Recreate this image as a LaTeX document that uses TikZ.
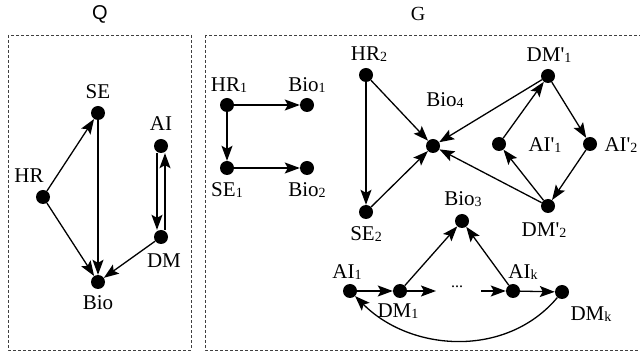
\documentclass[tikz,border=0pt]{standalone}
\usepackage{fontspec}
\setmainfont{Liberation Serif}
\newfontfamily\titlesans{Liberation Sans}
\usetikzlibrary{arrows.meta}
% small upright index digits/letters used in the vertex names
\newcommand\sbs[1]{\raisebox{-0.12ex}{\fontsize{14}{14}\selectfont #1}}
\newcommand\pr{\textquotesingle}

\begin{document}
\begin{tikzpicture}[x=1pt,y=-1pt,
  dot/.style={circle,fill=black,inner sep=0pt,minimum size=14pt},
  lbl/.style={inner sep=0pt,font=\fontsize{21}{25}\selectfont},
  ttl/.style={inner sep=0pt,font=\fontsize{20}{24}\selectfont},
  edge/.style={line width=1.3pt,-{Stealth[length=15pt,width=11pt,inset=3pt]}},
  frame/.style={line width=0.9pt,black!75,dash pattern=on 3pt off 2pt}]
\useasboundingbox (0,0) rectangle (640,352);

% ---- frames and titles
\draw[frame] (8,35) rectangle (191,350);
\draw[frame] (205,35) rectangle (646,350);
\node[ttl,font=\titlesans\fontsize{20}{24}\selectfont] (tQ) at (100,14) {Q};
\node[ttl] (tG) at (418,14) {G};

% ---- pattern Q
\node[dot] (SE)  at (98,113)  {};
\node[dot] (HR)  at (43,197)  {};
\node[dot] (Bio) at (98,282)  {};
\node[dot] (AI)  at (161,146) {};
\node[dot] (DM)  at (161,237) {};
\node[lbl] (lSE)  at (98,92)   {SE};
\node[lbl] (lHR)  at (29,176)  {HR};
\node[lbl] (lBio) at (98,303)  {Bio};
\node[lbl] (lAI)  at (161,124) {AI};
\node[lbl] (lDM)  at (164,261) {DM};

\draw[edge] (HR) -- (SE);
\draw[edge] (HR) -- (Bio);
\draw[edge] (SE) -- (Bio);
\draw[edge] (DM) -- (Bio);
\draw[edge] ([xshift=-4pt]AI.south) -- ([xshift=-4pt]DM.north);
\draw[edge] ([xshift=4pt]DM.north) -- ([xshift=4pt]AI.south);

% ---- graph G
\node[dot] (HRa)  at (227,105) {};
\node[dot] (Bioa) at (307,105) {};
\node[dot] (SEa)  at (227,168) {};
\node[dot] (Biob) at (307,168) {};
\node[lbl] (lHRa)  at (229,85)  {HR\sbs{1}};
\node[lbl] (lBioa) at (307,85)  {Bio\sbs{1}};
\node[lbl] (lSEa)  at (227,190) {SE\sbs{1}};
\node[lbl] (lBiob) at (307,190) {Bio\sbs{2}};

\draw[edge] (HRa) -- (Bioa);
\draw[edge] (HRa) -- (SEa);
\draw[edge] (SEa) -- (Biob);

\node[dot] (HRb)  at (366,75)  {};
\node[dot] (SEb)  at (366,212) {};
\node[dot] (Biod) at (433,146) {};
\node[dot] (DMpa) at (548,76)  {};
\node[dot] (AIpa) at (499,144) {};
\node[dot] (AIpb) at (590,144) {};
\node[dot] (DMpb) at (548,206) {};
\node[lbl] (lHRb)  at (369,54)  {HR\sbs{2}};
\node[lbl] (lSEb)  at (366,234) {SE\sbs{2}};
\node[lbl] (lBiod) at (445,100) {Bio\sbs{4}};
\node[lbl] (lDMpa) at (549,55)  {DM\pr\sbs{1}};
\node[lbl] (lAIpa) at (545,145) {AI\pr\sbs{1}};
\node[lbl] (lAIpb) at (621,145) {AI\pr\sbs{2}};
\node[lbl] (lDMpb) at (544,230) {DM\pr\sbs{2}};

\draw[edge] (HRb) -- (SEb);
\draw[edge] (HRb) -- (Biod);
\draw[edge] (SEb) -- (Biod);
\draw[edge] (DMpa) -- (Biod);
\draw[edge] (DMpb) -- (Biod);
\draw[edge] (AIpa) -- (DMpa);
\draw[edge] (DMpa) -- (AIpb);
\draw[edge] (AIpb) -- (DMpb);
\draw[edge] (DMpb) -- (AIpa);

\node[dot] (Bioc) at (462,221) {};
\node[dot] (AIa)  at (350,291) {};
\node[dot] (DMa)  at (400,291) {};
\node[dot] (AIk)  at (513,291) {};
\node[dot] (DMk)  at (562,292) {};
\node[lbl] (lBioc) at (463,199) {Bio\sbs{3}};
\node[lbl] (lAIa)  at (347,272) {AI\sbs{1}};
\node[lbl] (lDMa)  at (398,311) {DM\sbs{1}};
\node[lbl] (lAIk)  at (523,272) {AI\sbs{k}};
\node[lbl] (lDMk)  at (591,314) {DM\sbs{k}};
\node[inner sep=0pt,font=\fontsize{16}{18}\selectfont] (gap) at (457,287) {...};
\coordinate (gapL) at (436,291);
\coordinate (gapR) at (481,291);

\draw[edge] (AIa) -- (DMa);
\draw[edge] (DMa) -- (gapL);
\draw[edge] (gapR) -- (AIk);
\draw[edge] (AIk) -- (DMk);
\draw[edge] (DMa) -- (Bioc);
\draw[edge] (AIk) -- (Bioc);
\draw[edge] (DMk) to[out=-130,in=-45] (AIa);
\end{tikzpicture}
\end{document}
